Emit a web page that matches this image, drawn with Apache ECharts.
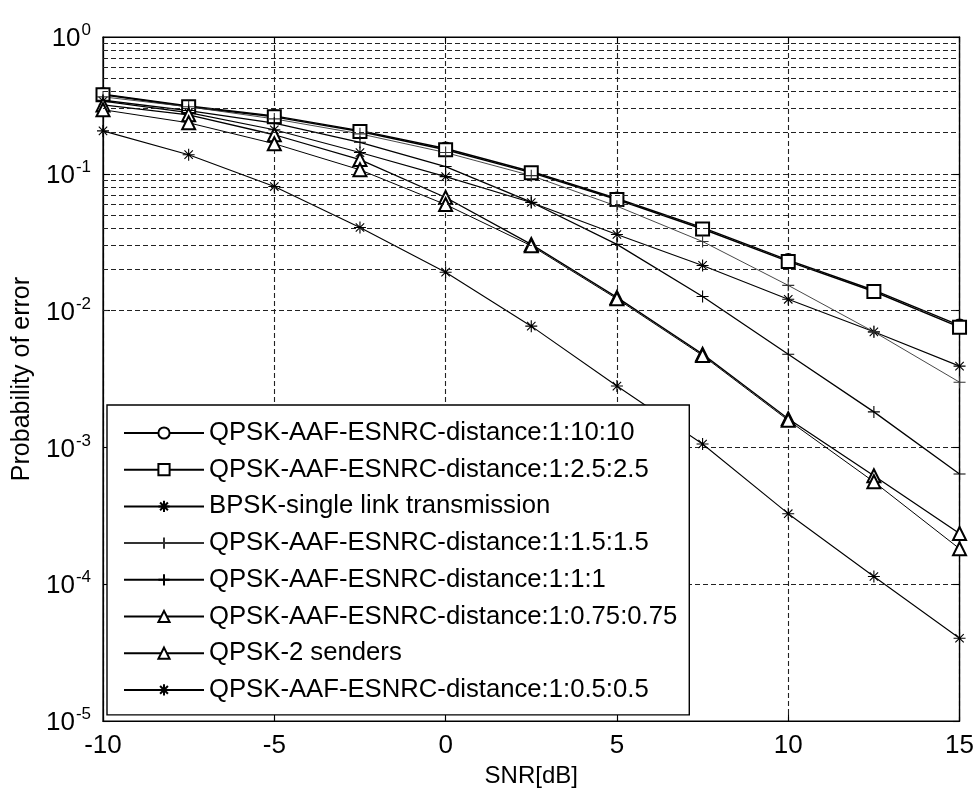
<!DOCTYPE html>
<html>
<head>
<meta charset="utf-8">
<script src="https://cdn.jsdelivr.net/npm/echarts@6/dist/echarts.min.js"></script>
<style>
  html, body { margin: 0; padding: 0; background: #fff; }
  #chart { width: 977px; height: 793px; }
</style>
</head>
<body>
<div id="chart"></div>
<script>
// SNR points (dB)
const snr = [-10, -7.5, -5, -2.5, 0, 2.5, 5, 7.5, 10, 12.5, 15];

// Error probability per scheme
const peDist1_10_10   = [0.382, 0.313, 0.265, 0.207, 0.153, 0.104, 0.066, 0.0404, 0.0234, 0.0141, 0.0078];
const peDist1_25_25   = [0.378, 0.309, 0.261, 0.204, 0.150, 0.102, 0.0649, 0.0395, 0.0229, 0.0138, 0.00757];
const peBpskSingle    = [0.340, 0.280, 0.210, 0.143, 0.0954, 0.0617, 0.036, 0.0214, 0.0121, 0.0070, 0.00393];
const peDist1_15_15   = [0.365, 0.309, 0.252, 0.196, 0.143, 0.097, 0.058, 0.032, 0.0153, 0.0070, 0.0030];
const peDist1_1_1     = [0.345, 0.290, 0.235, 0.170, 0.113, 0.062, 0.0305, 0.0127, 0.0048, 0.00182, 0.00064];
const peDist1_075_075 = [0.319, 0.270, 0.193, 0.127, 0.0671, 0.0305, 0.0125, 0.00481, 0.00162, 0.000621, 0.000235];
const peTwoSenders    = [0.294, 0.236, 0.166, 0.107, 0.0596, 0.0298, 0.0122, 0.00470, 0.00158, 0.000561, 0.000182];
const peDist1_05_05   = [0.206, 0.138, 0.0807, 0.0405, 0.0191, 0.0077, 0.00281, 0.00106, 0.000328, 0.000114, 0.0000403];

const seriesNames = [
  'QPSK-AAF-ESNRC-distance:1:10:10',
  'QPSK-AAF-ESNRC-distance:1:2.5:2.5',
  'BPSK-single link transmission',
  'QPSK-AAF-ESNRC-distance:1:1.5:1.5',
  'QPSK-AAF-ESNRC-distance:1:1:1',
  'QPSK-AAF-ESNRC-distance:1:0.75:0.75',
  'QPSK-2 senders',
  'QPSK-AAF-ESNRC-distance:1:0.5:0.5'
];

// y-axis decades and minor grid values (2..9 x 10^n)
const decades = [-5, -4, -3, -2, -1];
const minorVals = [];
decades.forEach(function (e) {
  for (let k = 2; k <= 9; k++) minorVals.push(k * Math.pow(10, e));
});

const ASTERISK = 'path://M10,0L10,20M0,10L20,10M3,3L17,17M3,17L17,3';
const PLUS = 'path://M10,0L10,20M0,10L20,10';
const FONT = 'Liberation Sans, Arial, sans-serif';

function pairs(ys) { return snr.map(function (x, i) { return [x, ys[i]]; }); }

function mk(name, ys, symbol, size, width, color) {
  return {
    name: name,
    type: 'line',
    z: 3,
    data: pairs(ys),
    symbol: symbol,
    symbolSize: size,
    showAllSymbol: true,
    lineStyle: { color: color || '#000', width: width },
    itemStyle: { color: color || '#000', borderColor: color || '#000', borderWidth: 1.1 },
    emphasis: { disabled: true },
    animation: false
  };
}

// circle markers only every 5 dB
const circleSeries = mk(seriesNames[0], peDist1_10_10, 'emptyCircle', 12, 1.4);
circleSeries.data = snr.map(function (x, i) {
  return { value: [x, peDist1_10_10[i]], symbol: (x % 5 === 0) ? 'emptyCircle' : 'none' };
});

const gridDash = { type: [5, 3], color: '#222', width: 1.1 };
const tickStyle = { inside: true, length: 7, lineStyle: { color: '#000', width: 1.1 } };

const option = {
  backgroundColor: '#fff',
  animation: false,
  textStyle: { fontFamily: FONT, color: '#000' },
  grid: {
    left: 103, right: 15, top: 37, bottom: 70,
    show: true, borderColor: '#000', borderWidth: 1.2, backgroundColor: 'transparent'
  },
  xAxis: [{
    type: 'value', min: -10, max: 15, interval: 5, position: 'bottom',
    name: 'SNR[dB]', nameLocation: 'middle', nameGap: 40,
    nameTextStyle: { fontSize: 24, color: '#000', fontFamily: FONT },
    axisLine: { onZero: false, lineStyle: { color: '#000', width: 1.2 } },
    axisTick: tickStyle,
    axisLabel: { fontSize: 26, color: '#000', margin: 12, fontFamily: FONT },
    splitLine: { show: true, lineStyle: gridDash }
  }, {
    type: 'value', min: -10, max: 15, interval: 5, position: 'top',
    axisLine: { onZero: false, lineStyle: { color: '#000', width: 1.2 } },
    axisTick: tickStyle,
    axisLabel: { show: false },
    splitLine: { show: false }
  }],
  yAxis: [{
    type: 'log', logBase: 10, min: 1e-5, max: 1, position: 'left',
    name: 'Probability of error', nameLocation: 'middle', nameGap: 67,
    nameTextStyle: { fontSize: 25, color: '#000', fontFamily: FONT },
    axisLine: { onZero: false, lineStyle: { color: '#000', width: 1.2 } },
    axisTick: tickStyle,
    axisLabel: {
      margin: 12,
      formatter: function (v) {
        const e = Math.round(Math.log10(v));
        return '{b|10}{s|' + e + '}';
      },
      rich: {
        b: { fontSize: 26, color: '#000', fontFamily: FONT, verticalAlign: 'bottom' },
        s: { fontSize: 17, color: '#000', fontFamily: FONT, verticalAlign: 'bottom', padding: [0, 0, 13, 1] }
      }
    },
    splitLine: { show: true, lineStyle: gridDash }
  }, {
    type: 'log', logBase: 10, min: 1e-5, max: 1, position: 'right',
    axisLine: { onZero: false, lineStyle: { color: '#000', width: 1.2 } },
    axisTick: tickStyle,
    axisLabel: { show: false },
    splitLine: { show: false }
  }],
  legend: {
    data: seriesNames,
    orient: 'vertical',
    left: 107, top: 405,
    padding: [15, 12, 12, 16],
    itemGap: 10.7,
    itemWidth: 80, itemHeight: 14,
    backgroundColor: '#fff',
    borderColor: '#000', borderWidth: 1.4, borderRadius: 0,
    selectedMode: false,
    textStyle: { fontSize: 25.7, lineHeight: 26, color: '#000', fontFamily: FONT }
  },
  series: [
    {
      name: 'minor-grid', type: 'line', data: [], z: 1, silent: true,
      markLine: {
        silent: true, symbol: ['none', 'none'], animation: false,
        label: { show: false },
        lineStyle: gridDash,
        emphasis: { disabled: true },
        data: minorVals.map(function (v) { return { yAxis: v }; })
      }
    },
    circleSeries,
    mk(seriesNames[1], peDist1_25_25, 'emptyRect', 13, 1.4),
    mk(seriesNames[2], peBpskSingle, ASTERISK, 12, 1.1),
    mk(seriesNames[3], peDist1_15_15, PLUS, 12, 0.9, '#333'),
    mk(seriesNames[4], peDist1_1_1, PLUS, 12, 1.3),
    mk(seriesNames[5], peDist1_075_075, 'emptyTriangle', 13, 1.3),
    mk(seriesNames[6], peTwoSenders, 'emptyTriangle', 13, 1.0),
    mk(seriesNames[7], peDist1_05_05, ASTERISK, 12, 1.1)
  ]
};

const chart = echarts.init(document.getElementById('chart'), null, { renderer: 'canvas' });
chart.setOption(option);
</script>
</body>
</html>
